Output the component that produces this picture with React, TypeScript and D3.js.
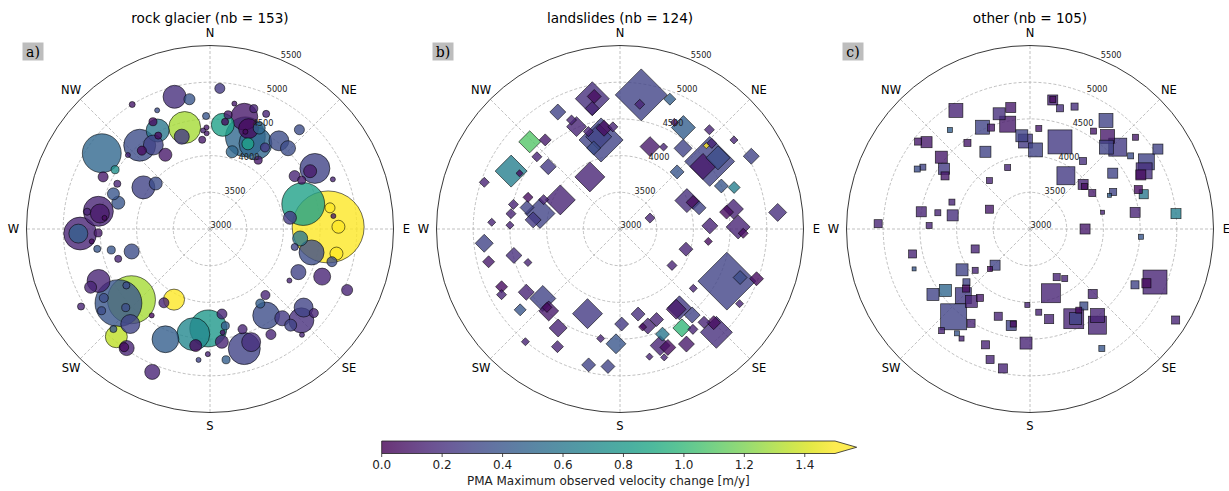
import React from 'react';
import * as d3 from 'd3';

// [aspect (deg from N, clockwise), elevation (m a.s.l.), area (ha), max velocity change (m/y)]
type Rec = [number, number, number, number];

const rockGlaciers: Rec[] = [
  [345, 4865, 14.7, 0.2], [351, 4790, 3.4, 0.4], [328, 5000, 1.0, 0.1], [336, 4770, 0.7, 0.35],
  [332, 4655, 1.8, 0.05], [332, 4520, 14.7, 0.6], [346, 4425, 28.4, 1.3], [343, 4315, 6.3, 0.25],
  [355, 4220, 1.4, 0.1], [358, 4305, 0.7, 0.1], [331, 4455, 1.4, 0.05], [320, 4490, 28.4, 0.35],
  [326, 4380, 11, 0.3], [319, 4415, 2.3, 0.05], [329, 4180, 4.7, 0.1], [312, 4505, 0.7, 0.15],
  [305, 4800, 42, 0.5], [302, 4525, 1.8, 0.75], [296, 4620, 2.8, 0.1], [296, 4405, 1.4, 0.15],
  [302, 4070, 14.7, 0.3], [310, 3965, 4.7, 0.35], [290, 4400, 4, 0.4], [286, 4300, 4.7, 0.4],
  [279, 4540, 25, 0.15], [278, 4515, 10, 0.1], [276, 4445, 0.7, 0.05], [278, 4690, 1.4, 0.15],
  [268, 4770, 30, 0.15], [268, 4795, 10, 0.45], [268, 4525, 1.8, 0.1], [264, 4620, 0.7, 0.05],
  [260, 4560, 1.4, 0.4], [258, 4375, 1.8, 0.4], [254, 4110, 6.3, 0.35], [252, 4315, 1.4, 0.15],
  [245, 4675, 14.7, 0.15], [244, 4810, 4, 0.15], [228, 4440, 64, 1.3], [231, 4605, 61, 0.4],
  [237, 4725, 2.3, 0.35], [227, 4570, 1.8, 0.35], [233, 4850, 1.8, 0.35], [236, 4375, 1.4, 0.35],
  [220, 4690, 10, 0.3], [239, 5050, 1.4, 0.15], [214, 4420, 0.7, 0.05], [207, 4080, 12.3, 1.5],
  [212, 4185, 2.8, 0.15], [221, 4945, 13.4, 1.35], [215, 4980, 6.3, 0.15], [216, 4990, 2.3, 0.05],
  [224, 4895, 1.4, 0.4], [202, 5100, 6.3, 0.15], [202, 4620, 20, 0.45], [181, 4355, 38, 0.8],
  [189, 4450, 30, 0.7], [187, 4600, 4, 0.05], [181, 4705, 0.7, 0.15], [185, 4790, 0.7, 0.3],
  [173, 4795, 1.8, 0.45], [172, 4170, 2.8, 0.15], [171, 4335, 1.8, 0.45], [174, 4545, 4.7, 0.15],
  [162, 4435, 2.3, 0.15], [164, 4695, 28.4, 0.3], [160, 4640, 10, 0.2], [173, 4420, 0.7, 0.05],
  [150, 4660, 2.8, 0.15], [147, 4405, 20, 0.35], [146, 4225, 2.3, 0.45], [140, 4175, 2.3, 0.15],
  [141, 4565, 6.3, 0.25], [140, 4710, 4, 0.3], [135, 4760, 17.4, 0.2], [130, 4665, 10, 0.3],
  [129, 4820, 2.3, 0.15], [139, 4910, 0.7, 0.15], [116, 4340, 6.3, 0.3], [113, 4660, 8, 0.15],
  [123, 4290, 0.7, 0.15], [114, 5045, 3.4, 0.15], [89, 4610, 144, 2.1], [75, 4315, 51, 0.85],
  [96, 4235, 6.3, 0.6], [103, 4420, 17.4, 0.35], [105, 4720, 2.8, 0.35], [82, 4100, 4.7, 0.25],
  [102, 4180, 1.4, 0.3], [89, 4750, 4.7, 1.6], [101, 4755, 4.7, 1.55], [80, 4660, 2.8, 1.5],
  [84, 4690, 0.7, 0.1], [68, 4805, 0.7, 0.15], [60, 4650, 25, 0.3], [60, 4575, 4.7, 0.1],
  [58, 4360, 3.4, 0.15], [62, 4415, 1.8, 0.1], [42, 4820, 2.8, 0.35], [44, 4530, 6.3, 0.35],
  [38, 4525, 11, 0.35], [26, 4745, 1.4, 0.15], [21, 4345, 44, 0.5], [28, 4320, 30, 0.5],
  [17, 4600, 20, 0.1], [21, 4465, 11, 0.05], [7, 4430, 14.7, 0.85], [24, 4270, 4, 0.85],
  [20, 4745, 1.8, 0.15], [11, 4740, 0.7, 0.1], [9, 4575, 1.8, 0.1], [8, 4475, 1.4, 0.05],
  [26, 4530, 4, 0.5], [34, 4340, 2.3, 0.25], [16, 4095, 4, 0.5], [35, 4145, 1.8, 0.1],
  [20, 4410, 0.7, 0.05], [4, 4920, 2.8, 0.25], [358, 4540, 1.4, 0.4], [358, 4385, 0.7, 0.1],
  [356, 4345, 0.7, 0.15],
];

const landslides: Rec[] = [
  [9, 4850, 75, 0.3], [9, 4720, 2.8, 0.15], [21, 4895, 4, 0.45], [348, 4815, 32, 0.2],
  [349, 4840, 5.4, 0.05], [347, 4685, 5.4, 0.15], [332, 4805, 7.1, 0.3], [336, 4625, 2.8, 0.15],
  [337, 4515, 11, 0.15], [342, 4395, 2.8, 0.15], [351, 4390, 7.1, 0.05], [356, 4395, 2.8, 0.15],
  [348, 4240, 54, 0.3], [347, 4290, 18.8, 0.3], [342, 4160, 5.4, 0.35], [314, 4710, 13.4, 1.1],
  [320, 4585, 4, 0.1], [311, 4500, 2.8, 0.15], [298, 4680, 28.4, 0.65], [299, 4565, 1.4, 0.05],
  [311, 4295, 7.1, 0.25], [289, 4955, 2.8, 0.15], [330, 3820, 25, 0.15], [20, 4195, 11, 0.1],
  [28, 4265, 1.8, 0.15], [32, 4630, 16, 0.45], [27, 4630, 1.8, 0.05], [38, 4395, 9, 0.3],
  [53, 4530, 69, 0.3], [54, 4650, 16, 0.35], [53, 4415, 18.8, 0.1], [47, 4710, 2.8, 0.15],
  [46, 4635, 1.0, 1.5], [42, 4820, 2.8, 0.15], [52, 4970, 1.8, 0.15], [61, 5045, 7.1, 0.3],
  [45, 4100, 5.4, 0.4], [67, 4500, 5.4, 0.4], [70, 4655, 4, 0.65], [67, 3990, 16, 0.2],
  [70, 4060, 5.4, 0.05], [75, 4115, 5.4, 0.3], [70, 3435, 2.8, 0.15], [80, 4570, 11, 0.15],
  [81, 4470, 5.4, 0.05], [84, 5160, 9, 0.2], [88, 4225, 7.1, 0.15], [296, 3905, 25, 0.15],
  [281, 4110, 25, 0.3], [276, 4190, 7.1, 0.25], [283, 4300, 5.4, 0.3], [289, 4325, 2.8, 0.05],
  [283, 4490, 2.8, 0.15], [278, 4500, 2.8, 0.15], [273, 4750, 1.8, 0.15], [272, 4500, 1.8, 0.15],
  [291, 4115, 2.8, 0.15], [107, 3940, 5.4, 0.15], [98, 4215, 1.8, 0.05], [89, 4610, 16, 0.15],
  [92, 4680, 2.8, 0.05], [264, 4860, 9, 0.3], [256, 4845, 4, 0.1], [256, 4490, 7.1, 0.2],
  [250, 4335, 1.8, 0.15], [244, 4795, 4, 0.05], [241, 4845, 2.8, 0.15], [236, 4540, 7.1, 0.15],
  [228, 4415, 18.8, 0.3], [221, 4480, 11, 0.1], [223, 4460, 2.8, 0.05], [231, 4750, 4, 0.4],
  [212, 4590, 9, 0.15], [220, 5005, 1.8, 0.15], [208, 4815, 4, 0.15], [201, 4235, 25, 0.25],
  [190, 4515, 1.8, 0.15], [179, 4295, 5.4, 0.25], [182, 4565, 11, 0.4], [193, 4900, 5.4, 0.3],
  [185, 4880, 5.4, 0.3], [168, 4185, 5.4, 0.2], [164, 4375, 7.1, 0.15], [167, 4370, 1.8, 0.05],
  [158, 4330, 5.4, 0.15], [158, 4545, 5.4, 0.6], [148, 4590, 9, 1.0], [161, 4680, 11, 0.15],
  [158, 4740, 7.1, 0.05], [150, 4810, 7.1, 0.1], [167, 4785, 1.4, 0.15], [161, 4850, 1.4, 0.15],
  [143, 4345, 16, 0.25], [145, 4335, 11, 0.1], [140, 4530, 7.1, 0.3], [144, 4690, 2.8, 0.15],
  [125, 3865, 2.8, 0.15], [129, 4285, 1.8, 0.15], [116, 4620, 93, 0.3], [112, 4765, 5.4, 0.35],
  [110, 4980, 5.4, 0.05], [122, 4920, 1.8, 0.15], [137, 4925, 28.4, 0.2], [135, 4805, 5.4, 0.05],
  [138, 4710, 4, 0.15],
];

const others: Rec[] = [
  [328, 4905, 5.4, 0.15], [345, 4625, 4, 0.2], [351, 4675, 2.8, 0.1], [335, 4530, 5.4, 0.3],
  [339, 4480, 1.4, 0.1], [348, 4460, 7.1, 0.1], [321, 4735, 0.7, 0.45], [355, 4275, 4, 0.3],
  [357, 4200, 5.4, 0.25], [4, 4080, 5.4, 0.3], [5, 4375, 1, 0.1], [310, 4840, 3.4, 0.1],
  [308, 4935, 1.4, 0.1], [324, 4450, 1.4, 0.1], [330, 4215, 3.4, 0.3], [309, 4555, 4, 0.1],
  [305, 4430, 3.4, 0.25], [302, 4365, 1.8, 0.1], [300, 4685, 1, 0.3], [298, 4740, 1, 0.35],
  [340, 3890, 1, 0.15], [320, 3860, 1, 0.15], [19, 4255, 16, 0.25], [10, 4785, 2.8, 0.15],
  [10, 4790, 1, 0.05], [14, 4695, 1.4, 0.2], [20, 4775, 1.4, 0.2], [35, 4805, 5.4, 0.3],
  [33, 4590, 1, 0.1], [40, 4645, 5.4, 0.1], [43, 4525, 5.4, 0.3], [47, 4635, 9, 0.25],
  [49, 4905, 1, 0.1], [58, 5055, 2.8, 0.3], [54, 4695, 1, 0.35], [60, 4830, 7.1, 0.3],
  [63, 4745, 7.1, 0.2], [64, 4680, 2.8, 0.05], [38, 4175, 1.4, 0.2], [34, 3875, 9, 0.25],
  [50, 3945, 2.8, 0.15], [52, 3940, 1, 0.05], [60, 3980, 1.4, 0.1], [56, 4360, 2.8, 0.3],
  [66, 4240, 1.4, 0.3], [67, 4175, 0.44, 0.45], [70, 4570, 1.8, 0.05], [73, 4620, 2.3, 0.6],
  [84, 5000, 2.8, 0.65], [81, 4450, 2.8, 0.15], [77, 4015, 0.44, 0.15], [90, 3750, 2.8, 0.1],
  [279, 4500, 2.8, 0.15], [280, 4275, 1, 0.15], [280, 4070, 3.4, 0.2], [289, 4125, 1, 0.15],
  [296, 3615, 1.8, 0.1], [272, 5070, 1.8, 0.15], [272, 4375, 1, 0.15], [258, 4635, 1.8, 0.15],
  [251, 4670, 0.44, 0.4], [250, 3795, 1.8, 0.15], [224, 3685, 2.8, 0.3], [225, 3770, 0.7, 0.05],
  [233, 3935, 1, 0.15], [239, 4080, 4, 0.3], [230, 4130, 1.4, 0.3], [227, 4190, 1.4, 0.05],
  [236, 4595, 4, 0.3], [234, 4425, 4, 0.5], [225, 4285, 7.1, 0.25], [219, 4270, 4, 0.15],
  [216, 4160, 1.4, 0.1], [221, 4585, 18.8, 0.3], [212, 4515, 1.8, 0.15], [221, 4835, 1, 0.15],
  [215, 4735, 0.7, 0.4], [212, 4760, 0.7, 0.15], [201, 4690, 1.8, 0.15], [200, 4265, 1.8, 0.15],
  [191, 4340, 2.8, 0.3], [190, 4315, 1, 0.05], [182, 4035, 0.7, 0.15], [182, 4555, 4, 0.15],
  [197, 4860, 1.8, 0.15], [191, 4935, 2.3, 0.15], [174, 4140, 1, 0.15], [168, 4255, 2.3, 0.15],
  [162, 3920, 10, 0.15], [151, 3750, 1.4, 0.15], [145, 3825, 1, 0.15], [154, 4360, 11, 0.15],
  [153, 4370, 4, 0.3], [145, 4280, 1.8, 0.35], [149, 4290, 1, 0.05], [145, 4600, 9, 0.15],
  [142, 4495, 5.4, 0.15], [136, 4230, 2.3, 0.15], [149, 4900, 1, 0.4], [118, 4620, 1.8, 0.3],
  [113, 4850, 16, 0.15], [115, 4750, 2.3, 0.05], [122, 5340, 1.8, 0.15], [94, 4515, 0.7, 0.4],
];

const panelTitles = ['rock glacier (nb = 153)', 'landslides (nb = 124)', 'other (nb = 105)'];
const panelLetters = ['a)', 'b)', 'c)'];
const panelShapes = ['circle', 'diamond', 'square'] as const;
const directionLabels = ['N', 'NE', 'E', 'SE', 'S', 'SW', 'W', 'NW'];
const elevationTicks = [3000, 3500, 4000, 4500, 5000, 5500];
const velocityTicks = [0, 0.2, 0.4, 0.6, 0.8, 1.0, 1.2, 1.4];
const colorbarLabel = 'PMA Maximum observed velocity change [m/y]';

const W = 1229;
const H = 491;
const CY = 229;
const CX = [210, 620, 1030];
const R = 183.5;
const FONT = '"DejaVu Sans", sans-serif';

const rScale = d3.scaleLinear().domain([3000, 5500]).range([0, R]);
const sizeScale = d3.scaleSqrt().domain([0, 144]).range([0, 36]);
const color = d3.scaleSequential(d3.interpolateViridis).domain([0, 1.5]).clamp(true);
const toRad = (deg: number) => (deg * Math.PI) / 180;

function Marker({ shape, x, y, s, fill }: { shape: string; x: number; y: number; s: number; fill: string }) {
  const common = { fill, fillOpacity: 0.8, stroke: '#000', strokeOpacity: 0.8, strokeWidth: 0.7 };
  if (shape === 'circle') return <circle cx={x} cy={y} r={s} {...common} />;
  if (shape === 'diamond')
    return <polygon points={`${x},${y - s} ${x + s},${y} ${x},${y + s} ${x - s},${y}`} {...common} />;
  return <rect x={x - s} y={y - s} width={2 * s} height={2 * s} {...common} />;
}

function PolarPanel({ i, data }: { i: number; data: Rec[] }) {
  const cx = CX[i];
  const sorted = [...data].sort((a, b) => b[2] - a[2]);
  const labelAngle = toRad(22.5);
  return (
    <g>
      <text x={cx} y={23} textAnchor="middle" fontFamily={FONT} fontSize={13.6} fill="#000">
        {panelTitles[i]}
      </text>
      <g transform={`translate(${cx},${CY})`}>
        {elevationTicks.slice(1, -1).map((t) => (
          <circle key={t} r={rScale(t)} fill="none" stroke="#b0b0b0" strokeWidth={0.8} strokeDasharray="3,2" />
        ))}
        {d3.range(0, 360, 45).map((a) => {
          const [x, y] = d3.pointRadial(toRad(a), R);
          return <line key={a} x1={0} y1={0} x2={x} y2={y} stroke="#b0b0b0" strokeWidth={0.8} strokeDasharray="3,2" />;
        })}
        {sorted.map((d, k) => {
          const [x, y] = d3.pointRadial(toRad(d[0]), rScale(d[1]));
          return <Marker key={k} shape={panelShapes[i]} x={x} y={y} s={sizeScale(d[2])} fill={color(d[3])} />;
        })}
        <circle r={R} fill="none" stroke="#222" strokeWidth={0.9} />
        {elevationTicks.map((t) => {
          const [x, y] = d3.pointRadial(labelAngle, rScale(t));
          return (
            <text key={t} x={x + 0.5} y={y - 1} fontFamily={FONT} fontSize={8.2} fill="#222">
              {t}
            </text>
          );
        })}
        {directionLabels.map((lab, k) => {
          const [x, y] = d3.pointRadial(toRad(k * 45), R + 13);
          return (
            <text key={lab} x={x} y={y} textAnchor="middle" dominantBaseline="central" fontFamily={FONT} fontSize={11.5} fill="#000">
              {lab}
            </text>
          );
        })}
      </g>
      <rect x={cx - 187.5} y={42.5} width={21} height={18} fill="#bdbdbd" />
      <text x={cx - 177} y={56.5} textAnchor="middle" fontFamily='"DejaVu Serif", serif' fontSize={14} fill="#000">
        {panelLetters[i]}
      </text>
    </g>
  );
}

function Colorbar() {
  const x = d3.scaleLinear().domain([0, 1.5]).range([381.7, 835]);
  const y0 = 441;
  const h = 12.5;
  const stops = d3.range(0, 1.0001, 0.05);
  return (
    <g>
      <defs>
        <linearGradient id="viridisGrad" x1="0" x2="1" y1="0" y2="0">
          {stops.map((t) => (
            <stop key={t} offset={`${t * 100}%`} stopColor={d3.interpolateViridis(t)} stopOpacity={0.8} />
          ))}
        </linearGradient>
      </defs>
      <rect x={x(0)} y={y0} width={x(1.5) - x(0)} height={h} fill="url(#viridisGrad)" />
      <polygon
        points={`${x(1.5)},${y0} ${x(1.5) + 21.7},${y0 + h / 2} ${x(1.5)},${y0 + h}`}
        fill={d3.interpolateViridis(1)}
        fillOpacity={0.8}
      />
      <polygon
        points={`${x(0)},${y0} ${x(1.5)},${y0} ${x(1.5) + 21.7},${y0 + h / 2} ${x(1.5)},${y0 + h} ${x(0)},${y0 + h}`}
        fill="none"
        stroke="#222"
        strokeWidth={0.8}
      />
      {velocityTicks.map((t) => (
        <g key={t}>
          <line x1={x(t)} x2={x(t)} y1={y0 + h} y2={y0 + h + 3.5} stroke="#222" strokeWidth={0.8} />
          <text x={x(t)} y={y0 + h + 15.5} textAnchor="middle" fontFamily={FONT} fontSize={12} fill="#222">
            {t.toFixed(1)}
          </text>
        </g>
      ))}
      <text x={(x(0) + x(1.5)) / 2} y={485} textAnchor="middle" fontFamily={FONT} fontSize={12} fill="#222">
        {colorbarLabel}
      </text>
    </g>
  );
}

export default function App() {
  const panels = [rockGlaciers, landslides, others];
  return (
    <svg
      width={W}
      height={H}
      viewBox={`0 0 ${W} ${H}`}
      style={{ position: 'absolute', left: 0, top: 0, background: '#fff' }}
    >
      <rect width={W} height={H} fill="#fff" />
      {panels.map((d, i) => (
        <PolarPanel key={i} i={i} data={d} />
      ))}
      <Colorbar />
    </svg>
  );
}
